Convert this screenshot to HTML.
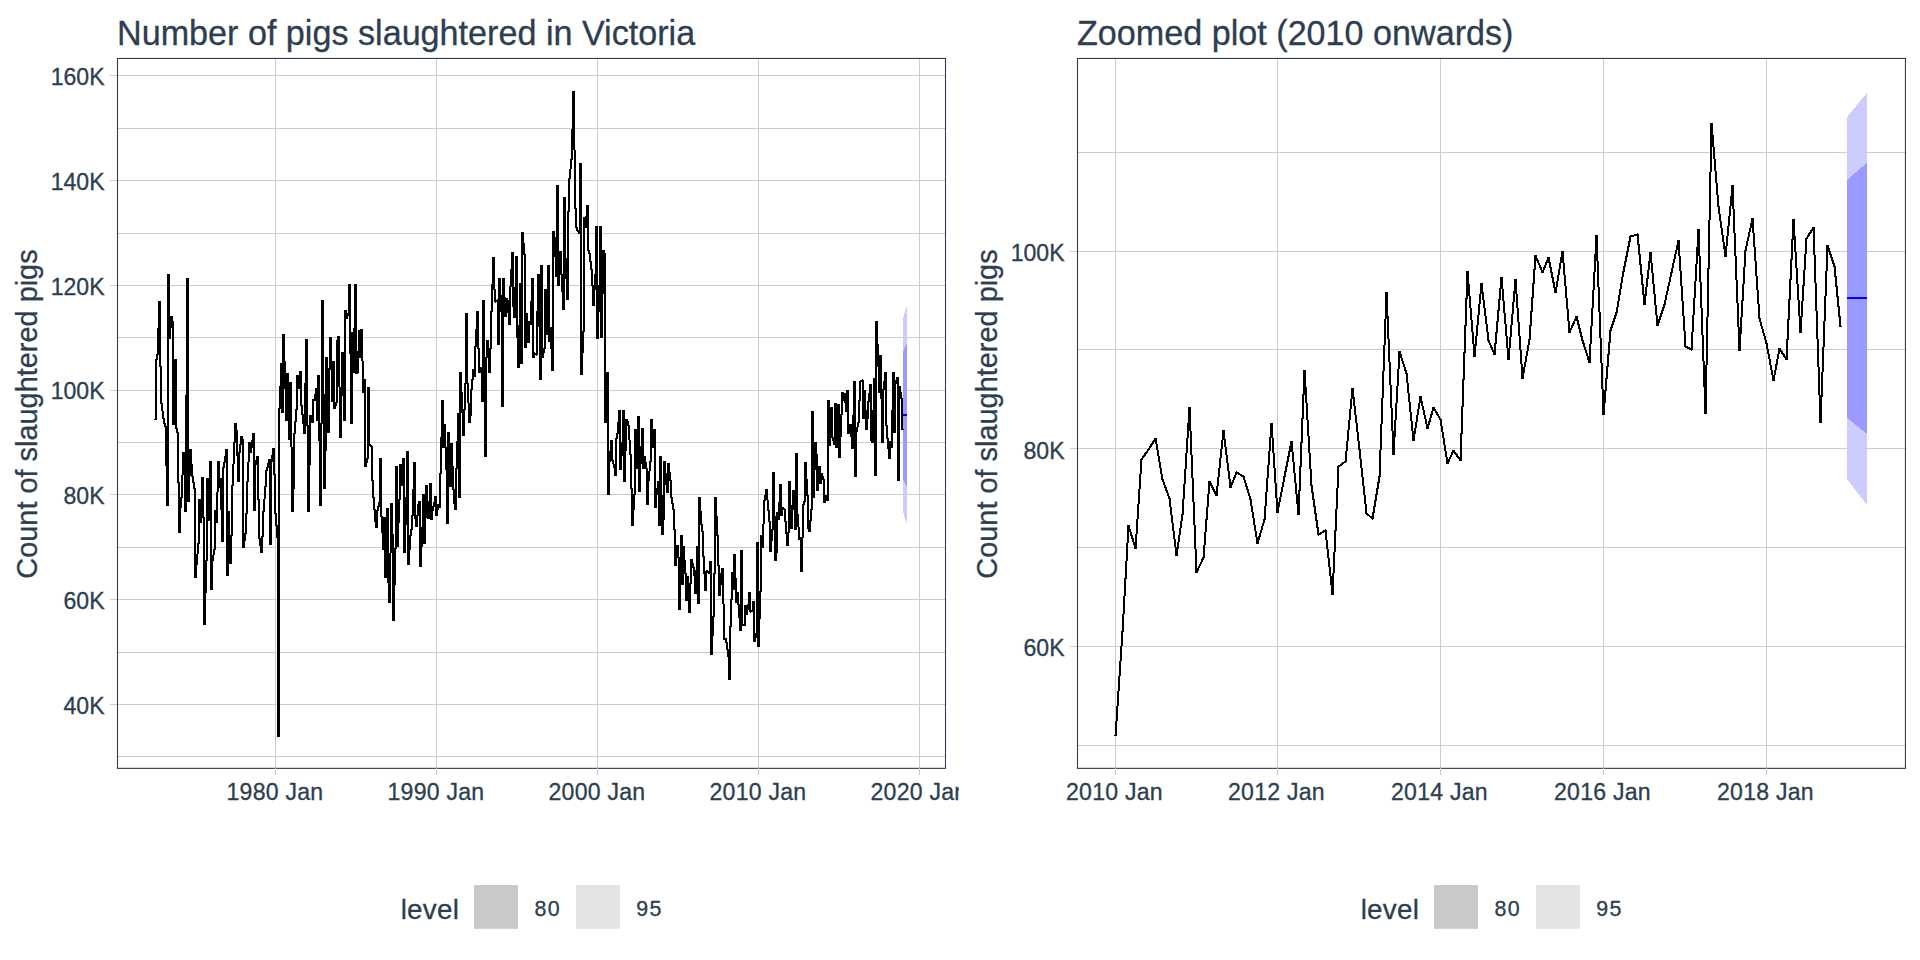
<!DOCTYPE html>
<html lang="en"><head><meta charset="utf-8"><title>Number of pigs slaughtered in Victoria</title>
<style>html,body{margin:0;padding:0;background:#fff;}body{width:1920px;height:960px;overflow:hidden;}svg{display:block;}text{font-family:"Liberation Sans",sans-serif;fill:#2c3e50;}text{stroke:#2c3e50;stroke-width:0.3px;}.t{font-size:34.15px;}.a{font-size:28.9px;letter-spacing:0px;}.l{font-size:27.8px;letter-spacing:0.25px;}.m{font-size:21.4px;letter-spacing:1.3px;}.k{font-size:23.1px;}.x{letter-spacing:0.22px;}.g{stroke:#cccccc;stroke-width:1;fill:none;shape-rendering:crispEdges;}.b{stroke:#2c3e50;stroke-width:1.1;fill:none;}.s{stroke:#000;stroke-width:2.3;fill:none;stroke-linejoin:miter;stroke-miterlimit:2;stroke-linecap:butt;shape-rendering:crispEdges;}</style></head><body>
<svg width="1920" height="960" viewBox="0 0 1920 960">
<rect width="1920" height="960" fill="#fff"/>
<path class="g" d="M117.5 756.5H945.5M117.5 652.5H945.5M117.5 547.5H945.5M117.5 442.5H945.5M117.5 337.5H945.5M117.5 233.5H945.5M117.5 128.5H945.5M110 704.5H945.5M110 599.5H945.5M110 494.5H945.5M110 390.5H945.5M110 285.5H945.5M110 180.5H945.5M110 75.5H945.5M275.5 58.45V768.35M436.5 58.45V768.35M597.5 58.45V768.35M758.5 58.45V768.35M919.5 58.45V768.35"/>
<path d="M902.9 318.77L904.2 314.26L905.55 310.01L906.9 305.93L906.9 524.37L905.55 520.04L904.2 515.59L902.9 510.92Z" fill="#ccccff" shape-rendering="crispEdges"/>
<path d="M902.9 352.13L904.2 348.94L905.55 345.92L906.9 342.98L906.9 486.71L905.55 484.03L904.2 481.22L902.9 478.3Z" fill="#9999ff" shape-rendering="crispEdges"/>
<path d="M902.9 415H906.9" stroke="#0000ff" stroke-width="2" fill="none" shape-rendering="crispEdges"/>
<path d="M573 91h1v59h-1zM572 91h1v69h-1zM574 91h1v118h-1zM571 129h1v40h-1zM575 150h1v78h-1zM570 159h1v20h-1zM579 163h1v71h-1zM580 163h2v212h-2zM569 169h1v43h-1zM568 178h1v122h-1zM556 185h1v92h-1zM557 185h2v101h-2zM565 197h1v82h-1zM563 197h2v113h-2zM586 205h1v23h-1zM587 205h1v46h-1zM588 205h1v49h-1zM576 208h1v23h-1zM567 211h1v89h-1zM585 216h1v12h-1zM584 217h1v115h-1zM583 217h1v136h-1zM595 226h1v64h-1zM599 226h1v86h-1zM600 226h2v112h-2zM596 226h2v113h-2zM577 227h1v5h-1zM578 230h1v4h-1zM554 231h1v26h-1zM552 231h2v140h-2zM523 232h1v23h-1zM521 232h2v132h-2zM555 237h1v40h-1zM524 243h1v105h-1zM589 250h1v12h-1zM603 250h1v44h-1zM602 250h1v88h-1zM604 250h1v173h-1zM560 251h1v24h-1zM559 251h1v35h-1zM561 251h1v41h-1zM511 252h1v35h-1zM512 252h1v55h-1zM513 252h1v66h-1zM590 253h1v17h-1zM605 253h1v170h-1zM525 254h1v94h-1zM515 256h1v62h-1zM516 256h1v82h-1zM517 256h1v112h-1zM493 257h1v33h-1zM494 257h1v45h-1zM492 257h1v55h-1zM566 258h1v42h-1zM591 261h1v25h-1zM547 265h1v70h-1zM548 265h2v77h-2zM542 265h1v93h-1zM540 265h2v115h-2zM592 269h1v37h-1zM510 269h1v56h-1zM594 274h1v32h-1zM562 274h1v36h-1zM538 274h1v53h-1zM169 274h1v65h-1zM537 274h1v81h-1zM539 274h1v106h-1zM167 274h2v232h-2zM500 278h1v34h-1zM504 278h1v39h-1zM531 278h1v47h-1zM498 278h2v67h-2zM532 278h2v80h-2zM502 278h2v129h-2zM187 278h2v224h-2zM186 278h1v234h-1zM520 283h1v81h-1zM519 283h1v85h-1zM348 284h1v32h-1zM491 284h1v65h-1zM349 284h1v70h-1zM354 284h1v89h-1zM355 284h2v90h-2zM350 284h1v140h-1zM593 285h1v21h-1zM598 285h1v54h-1zM509 286h1v39h-1zM514 287h1v31h-1zM495 289h1v14h-1zM546 289h1v46h-1zM545 289h1v60h-1zM544 289h1v64h-1zM501 295h1v112h-1zM505 297h1v20h-1zM507 298h1v15h-1zM506 298h1v19h-1zM497 299h1v46h-1zM496 300h1v2h-1zM508 300h1v25h-1zM482 300h2v102h-2zM322 300h1v124h-1zM484 300h1v157h-1zM323 300h1v189h-1zM321 300h1v206h-1zM530 301h1v24h-1zM158 301h1v54h-1zM159 301h1v66h-1zM160 301h1v103h-1zM346 310h1v9h-1zM344 310h2v111h-2zM476 311h1v36h-1zM477 311h1v38h-1zM536 311h1v45h-1zM478 311h1v62h-1zM490 311h1v62h-1zM347 313h1v6h-1zM527 313h1v30h-1zM526 313h1v35h-1zM466 313h1v71h-1zM467 313h1v90h-1zM465 313h1v97h-1zM171 316h1v12h-1zM170 316h1v23h-1zM172 316h1v109h-1zM528 321h2v22h-2zM877 321h1v46h-1zM173 321h1v104h-1zM875 321h2v155h-2zM518 325h1v43h-1zM550 327h1v22h-1zM551 327h1v44h-1zM157 328h1v32h-1zM353 328h1v45h-1zM360 329h1v29h-1zM361 329h1v32h-1zM475 329h1v48h-1zM362 329h1v64h-1zM359 330h1v28h-1zM358 330h1v43h-1zM582 331h1v44h-1zM351 332h2v92h-2zM284 334h1v55h-1zM282 334h2v79h-2zM338 336h1v51h-1zM337 336h1v67h-1zM339 336h1v102h-1zM330 337h1v33h-1zM331 337h1v65h-1zM329 337h1v96h-1zM306 339h1v87h-1zM305 339h1v95h-1zM307 339h1v173h-1zM487 340h1v18h-1zM488 340h1v33h-1zM336 340h1v66h-1zM486 340h1v117h-1zM878 344h1v49h-1zM474 346h1v31h-1zM543 348h1v10h-1zM479 348h1v25h-1zM489 348h1v25h-1zM357 351h1v23h-1zM534 352h1v6h-1zM342 352h1v44h-1zM343 352h1v69h-1zM341 352h1v86h-1zM535 353h1v2h-1zM156 354h1v66h-1zM879 355h1v38h-1zM880 355h1v44h-1zM881 355h1v88h-1zM327 357h1v76h-1zM326 357h1v94h-1zM485 357h1v100h-1zM325 357h1v132h-1zM155 359h1v61h-1zM174 359h1v66h-1zM175 359h1v70h-1zM176 359h1v74h-1zM363 361h1v32h-1zM332 361h1v41h-1zM333 361h2v48h-2zM285 361h1v60h-1zM280 363h1v46h-1zM281 363h1v50h-1zM161 366h1v45h-1zM480 367h1v6h-1zM481 367h1v35h-1zM328 368h1v65h-1zM473 369h1v11h-1zM472 369h1v21h-1zM299 371h1v18h-1zM300 371h1v35h-1zM301 371h1v44h-1zM884 372h1v18h-1zM461 372h1v41h-1zM606 372h1v51h-1zM885 372h1v54h-1zM893 372h2v61h-2zM886 372h1v67h-1zM892 372h1v76h-1zM607 372h2v123h-2zM459 372h2v126h-2zM286 373h2v48h-2zM288 373h1v67h-1zM298 375h1v14h-1zM297 375h1v35h-1zM317 375h1v46h-1zM296 375h1v47h-1zM318 375h1v66h-1zM319 375h1v131h-1zM896 377h1v7h-1zM897 377h2v104h-2zM873 378h1v65h-1zM874 378h1v98h-1zM471 379h1v37h-1zM862 379h1v40h-1zM364 379h2v88h-2zM861 380h1v2h-1zM860 380h1v21h-1zM863 380h1v39h-1zM895 380h1v53h-1zM859 381h1v42h-1zM883 381h1v62h-1zM853 381h1v68h-1zM854 381h2v96h-2zM289 382h1v58h-1zM290 382h1v65h-1zM291 382h1v130h-1zM468 383h1v40h-1zM304 383h1v51h-1zM464 383h1v53h-1zM869 384h1v18h-1zM870 384h1v57h-1zM871 384h1v59h-1zM900 386h1v13h-1zM899 386h1v95h-1zM279 386h1v351h-1zM340 387h1v51h-1zM369 387h1v59h-1zM368 387h1v72h-1zM367 387h1v76h-1zM315 388h1v13h-1zM316 388h1v33h-1zM470 389h1v34h-1zM882 389h1v54h-1zM846 390h1v22h-1zM864 390h1v29h-1zM865 390h1v40h-1zM847 390h2v44h-2zM843 392h1v9h-1zM842 392h1v23h-1zM901 392h1v38h-1zM462 392h1v44h-1zM841 392h1v45h-1zM844 393h1v10h-1zM845 393h1v19h-1zM868 393h1v26h-1zM314 394h1v7h-1zM324 394h1v95h-1zM185 395h1v117h-1zM902 398h1v32h-1zM312 399h2v24h-2zM858 400h1v27h-1zM829 400h1v46h-1zM442 400h2v48h-2zM441 400h1v74h-1zM827 400h2v101h-2zM867 401h1v29h-1zM335 402h1v7h-1zM162 403h1v16h-1zM469 403h1v20h-1zM834 403h1v42h-1zM835 403h2v45h-2zM837 404h1v44h-1zM838 404h2v54h-2zM302 405h1v19h-1zM831 407h1v31h-1zM832 407h1v34h-1zM830 407h1v39h-1zM278 408h1v329h-1zM295 409h1v25h-1zM463 409h1v27h-1zM866 410h1v20h-1zM618 410h1v24h-1zM872 410h1v33h-1zM891 410h1v38h-1zM622 410h1v46h-1zM619 410h2v60h-2zM623 410h2v72h-2zM163 411h1v13h-1zM813 411h1v87h-1zM812 411h1v99h-1zM811 411h1v110h-1zM457 413h1v56h-1zM458 413h1v85h-1zM303 414h1v20h-1zM840 414h1v44h-1zM311 415h1v8h-1zM852 415h1v34h-1zM310 415h1v50h-1zM309 415h1v97h-1zM637 416h1v53h-1zM638 416h2v76h-2zM164 418h1v9h-1zM154 419h1v1h-1zM627 419h1v7h-1zM652 419h1v29h-1zM626 419h1v32h-1zM651 419h1v43h-1zM650 419h1v52h-1zM625 419h1v63h-1zM628 421h1v19h-1zM294 421h1v68h-1zM857 422h1v10h-1zM617 422h1v17h-1zM235 423h1v20h-1zM236 423h1v33h-1zM234 423h1v41h-1zM165 423h1v43h-1zM320 423h1v83h-1zM849 424h1v10h-1zM850 424h1v13h-1zM444 424h1v24h-1zM851 424h1v25h-1zM445 424h1v46h-1zM887 425h1v24h-1zM629 425h1v30h-1zM308 425h1v87h-1zM166 426h1v80h-1zM856 427h1v50h-1zM641 428h1v36h-1zM642 428h2v41h-2zM177 428h1v55h-1zM903 429h1v1h-1zM653 429h1v19h-1zM636 429h1v40h-1zM635 429h1v66h-1zM654 429h2v79h-2zM634 429h1v81h-1zM237 430h1v52h-1zM449 432h1v55h-1zM447 432h2v92h-2zM178 432h1v101h-1zM252 433h1v15h-1zM616 433h1v43h-1zM253 433h2v78h-2zM293 433h1v79h-1zM241 436h1v9h-1zM240 436h1v17h-1zM242 436h1v112h-1zM833 437h1v8h-1zM440 437h1v71h-1zM888 438h1v21h-1zM615 438h1v38h-1zM243 439h1v109h-1zM251 440h1v13h-1zM611 440h1v21h-1zM610 440h1v22h-1zM612 440h1v24h-1zM630 440h1v49h-1zM889 441h2v18h-2zM456 441h1v69h-1zM250 442h1v11h-1zM249 442h1v20h-1zM621 442h1v28h-1zM815 442h1v28h-1zM248 442h1v40h-1zM233 442h1v44h-1zM816 442h1v49h-1zM814 442h1v56h-1zM450 443h2v44h-2zM452 443h1v47h-1zM370 444h1v3h-1zM239 444h1v38h-1zM371 445h1v36h-1zM640 446h1v46h-1zM372 446h1v52h-1zM292 447h1v65h-1zM446 447h1v77h-1zM272 448h1v14h-1zM273 448h1v27h-1zM274 448h1v66h-1zM225 449h1v14h-1zM190 449h1v27h-1zM191 449h1v28h-1zM189 449h1v53h-1zM226 449h2v127h-2zM609 451h1v44h-1zM406 451h1v74h-1zM407 451h2v114h-2zM183 452h1v23h-1zM238 452h1v30h-1zM182 452h1v46h-1zM184 452h1v60h-1zM797 453h1v74h-1zM795 453h2v77h-2zM817 454h1v37h-1zM631 454h1v72h-1zM271 455h1v90h-1zM256 456h1v9h-1zM224 456h1v12h-1zM644 456h2v13h-2zM257 456h1v44h-1zM659 456h2v70h-2zM661 456h1v79h-1zM258 456h1v83h-1zM366 458h1v9h-1zM402 458h1v28h-1zM379 458h1v49h-1zM380 458h1v59h-1zM381 458h1v75h-1zM403 458h2v95h-2zM268 459h1v9h-1zM269 459h2v86h-2zM613 460h1v8h-1zM255 460h1v51h-1zM649 461h1v20h-1zM665 461h1v24h-1zM219 461h1v27h-1zM218 461h1v31h-1zM664 461h1v59h-1zM209 461h1v60h-1zM217 461h1v62h-1zM663 461h1v74h-1zM210 461h2v129h-2zM806 462h1v34h-1zM805 462h1v40h-1zM646 462h1v43h-1zM804 462h1v43h-1zM247 462h1v52h-1zM413 462h1v54h-1zM414 462h1v57h-1zM415 462h1v65h-1zM223 462h1v80h-1zM267 463h1v8h-1zM669 463h1v18h-1zM667 463h2v30h-2zM614 464h1v12h-1zM192 464h1v19h-1zM401 464h1v22h-1zM400 464h1v36h-1zM399 464h1v59h-1zM232 464h1v72h-1zM819 466h2v18h-2zM818 466h1v25h-1zM453 466h1v38h-1zM397 466h1v81h-1zM396 466h1v83h-1zM395 466h1v119h-1zM266 467h1v20h-1zM222 467h1v75h-1zM647 468h1v37h-1zM455 468h1v42h-1zM265 470h1v29h-1zM648 471h1v34h-1zM670 472h1v26h-1zM773 472h1v58h-1zM772 472h1v69h-1zM774 472h1v89h-1zM822 473h1v7h-1zM821 473h1v11h-1zM666 473h1v20h-1zM439 473h1v35h-1zM275 474h1v52h-1zM181 475h1v33h-1zM193 476h1v13h-1zM823 476h1v27h-1zM202 477h1v41h-1zM201 477h1v46h-1zM203 477h1v148h-1zM220 478h1v32h-1zM208 478h1v43h-1zM221 478h1v64h-1zM207 478h1v83h-1zM206 478h1v115h-1zM824 479h1v24h-1zM807 479h1v50h-1zM671 480h1v24h-1zM373 480h1v30h-1zM657 481h1v14h-1zM658 481h1v45h-1zM790 481h1v48h-1zM789 481h1v52h-1zM246 481h1v53h-1zM788 481h1v65h-1zM179 482h1v51h-1zM194 482h1v96h-1zM429 483h1v36h-1zM430 483h2v37h-2zM780 484h2v32h-2zM779 484h1v36h-1zM426 485h1v33h-1zM427 485h1v34h-1zM425 485h1v59h-1zM231 485h1v79h-1zM264 486h1v26h-1zM656 488h1v20h-1zM632 488h1v38h-1zM195 488h1v90h-1zM766 489h1v11h-1zM765 489h1v12h-1zM454 489h1v21h-1zM767 489h1v22h-1zM412 489h1v41h-1zM793 490h1v20h-1zM792 490h1v39h-1zM794 490h1v40h-1zM216 492h1v31h-1zM633 494h1v32h-1zM423 494h2v50h-2zM422 494h1v53h-1zM826 495h1v6h-1zM825 495h1v8h-1zM764 495h1v29h-1zM808 495h1v37h-1zM662 495h1v40h-1zM434 496h1v11h-1zM435 496h2v20h-2zM672 497h1v13h-1zM374 497h1v25h-1zM700 497h1v28h-1zM180 497h1v36h-1zM716 497h1v39h-1zM405 497h1v56h-1zM715 497h1v77h-1zM698 497h2v107h-2zM714 497h1v120h-1zM200 499h1v24h-1zM263 499h1v38h-1zM199 499h1v45h-1zM259 499h1v47h-1zM398 499h1v48h-1zM198 499h1v55h-1zM768 500h1v22h-1zM763 500h1v48h-1zM418 501h1v15h-1zM428 501h1v18h-1zM803 501h1v37h-1zM419 501h2v66h-2zM378 502h1v9h-1zM433 502h1v9h-1zM778 502h1v18h-1zM673 503h1v27h-1zM391 503h1v50h-1zM390 503h1v100h-1zM392 503h1v118h-1zM438 504h1v6h-1zM437 504h1v12h-1zM417 504h1v23h-1zM802 504h1v68h-1zM791 505h1v24h-1zM432 506h1v14h-1zM377 506h1v22h-1zM783 507h1v3h-1zM782 507h1v9h-1zM784 508h1v14h-1zM386 508h1v70h-1zM387 508h1v75h-1zM388 508h1v95h-1zM375 509h1v19h-1zM810 509h1v23h-1zM785 509h1v25h-1zM674 509h1v57h-1zM376 510h1v18h-1zM215 510h1v40h-1zM769 510h1v42h-1zM214 510h1v45h-1zM701 511h1v21h-1zM262 511h1v42h-1zM229 511h1v53h-1zM228 511h1v65h-1zM777 512h1v41h-1zM776 512h1v49h-1zM276 513h1v25h-1zM245 513h1v28h-1zM798 514h1v26h-1zM416 515h1v12h-1zM411 515h1v21h-1zM382 516h1v34h-1zM775 516h1v45h-1zM717 516h1v50h-1zM383 517h1v33h-1zM384 517h2v61h-2zM204 517h1v108h-1zM809 520h1v12h-1zM786 521h1v25h-1zM770 521h1v31h-1zM762 524h1v24h-1zM702 524h1v33h-1zM277 525h1v212h-1zM799 527h1v13h-1zM421 527h1v40h-1zM410 529h1v21h-1zM771 529h1v23h-1zM675 529h1v37h-1zM703 531h1v43h-1zM787 532h1v14h-1zM244 533h1v15h-1zM393 534h1v87h-1zM230 535h1v29h-1zM409 535h1v30h-1zM681 535h2v50h-2zM761 535h1v57h-1zM718 535h1v61h-1zM680 535h1v75h-1zM760 535h1v84h-1zM261 536h1v17h-1zM800 537h2v35h-2zM260 538h1v15h-1zM756 542h1v96h-1zM757 542h2v105h-2zM197 543h1v22h-1zM677 545h1v13h-1zM676 545h1v21h-1zM678 545h1v65h-1zM684 546h1v28h-1zM683 546h1v39h-1zM696 546h1v48h-1zM697 546h1v58h-1zM394 548h1v73h-1zM213 549h1v12h-1zM742 550h1v76h-1zM740 550h2v81h-2zM389 553h1v50h-1zM196 554h1v24h-1zM733 554h2v36h-2zM735 554h1v49h-1zM212 555h1v35h-1zM704 556h1v35h-1zM679 557h1v53h-1zM692 559h1v9h-1zM691 559h1v25h-1zM690 559h1v54h-1zM685 560h1v41h-1zM205 560h1v65h-1zM709 561h1v13h-1zM710 561h2v94h-2zM693 563h1v13h-1zM719 565h1v31h-1zM694 567h1v27h-1zM721 568h1v17h-1zM722 568h1v36h-1zM723 568h1v72h-1zM707 570h1v3h-1zM706 570h1v21h-1zM695 570h1v24h-1zM708 571h1v3h-1zM705 571h1v20h-1zM732 572h1v28h-1zM731 572h1v55h-1zM720 573h1v23h-1zM686 573h1v28h-1zM713 573h1v63h-1zM687 576h1v25h-1zM688 576h1v37h-1zM736 578h1v25h-1zM689 583h1v30h-1zM759 591h1v56h-1zM737 592h1v13h-1zM748 592h1v18h-1zM749 592h1v20h-1zM750 592h1v21h-1zM738 592h1v26h-1zM730 599h1v81h-1zM752 601h1v11h-1zM753 601h2v41h-2zM747 604h1v11h-1zM739 604h1v27h-1zM724 604h1v36h-1zM746 605h1v10h-1zM744 605h2v21h-2zM751 610h1v2h-1zM712 616h1v39h-1zM743 624h1v2h-1zM729 626h1v54h-1zM755 633h1v9h-1zM725 638h1v5h-1zM726 638h1v12h-1zM727 642h1v15h-1zM728 649h1v31h-1z" fill="#000" shape-rendering="crispEdges"/>
<path class="g" d="M275.5 767.85V774.95M436.5 767.85V774.95M597.5 767.85V774.95M758.5 767.85V774.95M919.5 767.85V774.95"/>
<rect class="b" x="117.5" y="58.45" width="828" height="709.9"/>
<path class="g" d="M275.5 767.85V774.95M436.5 767.85V774.95M597.5 767.85V774.95M758.5 767.85V774.95M919.5 767.85V774.95"/>
<text class="t" x="117" y="44.7">Number of pigs slaughtered in Victoria</text>
<text class="k" x="104.6" y="713.97" text-anchor="end">40K</text>
<text class="k" x="104.6" y="609.14" text-anchor="end">60K</text>
<text class="k" x="104.6" y="504.3" text-anchor="end">80K</text>
<text class="k" x="104.6" y="399.47" text-anchor="end">100K</text>
<text class="k" x="104.6" y="294.63" text-anchor="end">120K</text>
<text class="k" x="104.6" y="189.8" text-anchor="end">140K</text>
<text class="k" x="104.6" y="84.97" text-anchor="end">160K</text>
<text class="k x" x="274.9" y="800.3" text-anchor="middle">1980 Jan</text>
<text class="k x" x="435.9" y="800.3" text-anchor="middle">1990 Jan</text>
<text class="k x" x="596.9" y="800.3" text-anchor="middle">2000 Jan</text>
<text class="k x" x="757.9" y="800.3" text-anchor="middle">2010 Jan</text>
<text class="k x" x="918.9" y="800.3" text-anchor="middle">2020 Jan</text>
<text class="a" transform="translate(36.7 414) rotate(-90)" text-anchor="middle">Count of slaughtered pigs</text>
<rect x="959" y="775" width="40" height="40" fill="#fff"/>
<path class="g" d="M1077.5 745.5H1905.45M1077.5 547.5H1905.45M1077.5 349.5H1905.45M1077.5 152.5H1905.45M1070 646.5H1905.45M1070 448.5H1905.45M1070 251.5H1905.45M1115.5 58.45V768.35M1277.5 58.45V768.35M1440.5 58.45V768.35M1603.5 58.45V768.35M1766.5 58.45V768.35"/>
<path d="M1847.2 117.1L1853.8 108.6L1860.4 100.6L1867 92.9L1867 504.75L1860.4 496.6L1853.8 488.2L1847.2 479.4Z" fill="#ccccff" shape-rendering="crispEdges"/>
<path d="M1847.2 180L1853.8 174L1860.4 168.3L1867 162.75L1867 433.75L1860.4 428.7L1853.8 423.4L1847.2 417.9Z" fill="#9999ff" shape-rendering="crispEdges"/>
<path d="M1847.2 298H1867" stroke="#0000ff" stroke-width="2" fill="none" shape-rendering="crispEdges"/>
<path d="M1712 123h1v24h-1zM1711 123h1v49h-1zM1710 123h1v97h-1zM1713 135h1v24h-1zM1714 147h1v24h-1zM1715 159h1v24h-1zM1716 171h1v24h-1zM1709 172h1v97h-1zM1717 183h1v24h-1zM1731 185h1v21h-1zM1732 185h1v24h-1zM1733 185h1v48h-1zM1718 195h1v19h-1zM1730 196h1v20h-1zM1719 206h1v15h-1zM1729 206h1v20h-1zM1734 209h1v47h-1zM1720 214h1v14h-1zM1728 216h1v20h-1zM1751 218h1v10h-1zM1752 218h1v15h-1zM1753 218h1v29h-1zM1793 219h1v21h-1zM1794 219h1v33h-1zM1792 219h1v41h-1zM1708 220h1v97h-1zM1721 221h1v14h-1zM1750 223h1v9h-1zM1727 226h1v20h-1zM1812 227h1v4h-1zM1813 227h1v28h-1zM1814 227h1v56h-1zM1749 228h1v9h-1zM1722 228h1v14h-1zM1811 229h1v4h-1zM1698 229h1v27h-1zM1697 229h1v35h-1zM1699 229h1v53h-1zM1810 230h1v4h-1zM1809 232h1v4h-1zM1748 232h1v9h-1zM1808 233h1v4h-1zM1637 233h1v12h-1zM1754 233h1v28h-1zM1735 233h1v47h-1zM1634 234h3v2h-3zM1638 234h1v21h-1zM1631 235h3v2h-3zM1807 235h1v4h-1zM1630 235h1v7h-1zM1723 235h1v14h-1zM1596 235h1v26h-1zM1595 235h1v37h-1zM1597 235h1v52h-1zM1629 236h1v11h-1zM1726 236h1v21h-1zM1795 236h1v32h-1zM1747 237h1v9h-1zM1806 237h1v17h-1zM1805 238h1v32h-1zM1791 239h1v41h-1zM1677 240h1v10h-1zM1678 240h1v16h-1zM1679 240h1v31h-1zM1746 241h1v10h-1zM1628 241h1v11h-1zM1724 242h1v15h-1zM1639 244h1v21h-1zM1828 245h1v7h-1zM1676 245h1v9h-1zM1827 245h1v26h-1zM1826 245h1v51h-1zM1627 246h1v11h-1zM1725 246h1v11h-1zM1745 246h1v21h-1zM1755 247h1v29h-1zM1696 247h1v34h-1zM1829 248h1v7h-1zM1675 250h1v9h-1zM1744 250h1v34h-1zM1830 251h1v7h-1zM1626 251h1v11h-1zM1561 251h2v12h-2zM1563 251h1v24h-1zM1650 252h1v11h-1zM1649 252h1v18h-1zM1651 252h1v21h-1zM1796 252h1v32h-1zM1831 254h1v7h-1zM1674 254h1v9h-1zM1640 254h1v21h-1zM1804 254h1v32h-1zM1594 254h1v36h-1zM1536 255h1v6h-1zM1535 255h1v15h-1zM1534 255h1v29h-1zM1815 255h1v56h-1zM1625 256h1v11h-1zM1680 256h1v30h-1zM1736 256h1v47h-1zM1700 256h1v52h-1zM1547 257h2v6h-2zM1832 257h1v7h-1zM1549 257h1v11h-1zM1560 257h1v12h-1zM1537 258h1v5h-1zM1673 259h1v9h-1zM1790 259h1v41h-1zM1538 260h1v5h-1zM1546 260h1v5h-1zM1833 260h1v7h-1zM1624 261h1v11h-1zM1648 261h1v18h-1zM1756 261h1v29h-1zM1598 261h1v51h-1zM1545 262h1v6h-1zM1550 262h1v11h-1zM1539 263h1v5h-1zM1672 263h1v10h-1zM1559 263h1v12h-1zM1834 263h1v14h-1zM1652 263h1v21h-1zM1564 263h1v23h-1zM1641 264h1v21h-1zM1695 264h1v34h-1zM1540 265h1v5h-1zM1544 265h1v5h-1zM1623 266h1v11h-1zM1835 266h1v21h-1zM1541 267h1v6h-1zM1543 267h1v6h-1zM1551 267h1v11h-1zM1743 267h1v34h-1zM1671 268h1v9h-1zM1797 268h1v32h-1zM1707 268h1v97h-1zM1558 269h1v12h-1zM1533 269h1v29h-1zM1542 270h1v3h-1zM1647 270h1v17h-1zM1803 270h1v31h-1zM1622 271h1v12h-1zM1468 271h1v25h-1zM1467 271h1v28h-1zM1681 271h1v30h-1zM1825 271h1v50h-1zM1466 271h1v55h-1zM1670 272h1v10h-1zM1552 272h1v11h-1zM1593 272h1v36h-1zM1653 273h1v21h-1zM1642 274h1v21h-1zM1557 275h1v12h-1zM1565 275h1v23h-1zM1836 276h1v21h-1zM1757 276h1v28h-1zM1669 277h1v9h-1zM1553 277h1v11h-1zM1501 277h1v12h-1zM1621 277h1v12h-1zM1500 277h1v23h-1zM1502 277h1v24h-1zM1646 278h1v18h-1zM1515 279h1v15h-1zM1514 279h1v23h-1zM1516 279h1v29h-1zM1789 279h1v41h-1zM1737 280h1v47h-1zM1556 281h1v12h-1zM1694 281h1v34h-1zM1668 282h1v9h-1zM1554 282h1v11h-1zM1701 282h1v53h-1zM1481 283h1v11h-1zM1620 283h1v12h-1zM1482 283h1v17h-1zM1480 283h1v21h-1zM1532 283h1v29h-1zM1816 283h1v56h-1zM1643 284h1v21h-1zM1654 284h1v21h-1zM1469 284h1v24h-1zM1798 284h1v32h-1zM1742 284h1v33h-1zM1802 285h1v32h-1zM1667 286h1v9h-1zM1837 286h1v21h-1zM1566 286h1v23h-1zM1682 286h1v30h-1zM1555 287h1v6h-1zM1645 287h1v18h-1zM1599 287h1v51h-1zM1499 288h1v23h-1zM1619 289h1v12h-1zM1503 289h1v24h-1zM1758 290h1v29h-1zM1592 290h1v36h-1zM1666 291h1v9h-1zM1513 291h1v23h-1zM1483 292h1v16h-1zM1386 292h1v27h-1zM1387 292h1v47h-1zM1385 292h1v53h-1zM1644 294h1v11h-1zM1479 294h1v21h-1zM1655 294h1v21h-1zM1517 294h1v28h-1zM1665 295h1v10h-1zM1618 295h1v12h-1zM1838 296h1v21h-1zM1470 296h1v24h-1zM1824 296h1v51h-1zM1531 297h1v29h-1zM1567 298h1v23h-1zM1693 298h1v34h-1zM1465 298h1v55h-1zM1498 299h1v23h-1zM1788 299h1v41h-1zM1664 300h1v8h-1zM1484 300h1v16h-1zM1799 300h1v33h-1zM1741 300h1v34h-1zM1617 301h1v12h-1zM1504 301h1v23h-1zM1683 301h1v30h-1zM1801 301h1v32h-1zM1512 302h1v23h-1zM1738 303h1v48h-1zM1663 304h1v7h-1zM1759 304h1v18h-1zM1478 304h1v21h-1zM1656 305h1v21h-1zM1839 306h1v21h-1zM1662 307h1v7h-1zM1616 307h1v9h-1zM1485 308h1v16h-1zM1471 308h1v24h-1zM1518 308h1v28h-1zM1591 308h1v36h-1zM1702 308h1v53h-1zM1568 309h1v24h-1zM1661 310h1v7h-1zM1497 310h1v23h-1zM1530 311h1v29h-1zM1817 311h1v56h-1zM1615 312h1v7h-1zM1600 312h1v51h-1zM1660 313h1v7h-1zM1505 313h1v23h-1zM1511 314h1v23h-1zM1614 315h1v7h-1zM1657 315h1v11h-1zM1477 315h1v21h-1zM1692 315h1v35h-1zM1575 316h2v5h-2zM1659 316h1v7h-1zM1577 316h1v9h-1zM1840 316h1v11h-1zM1486 316h1v16h-1zM1800 316h1v17h-1zM1684 316h1v31h-1zM1388 316h1v46h-1zM1740 317h1v34h-1zM1706 317h1v97h-1zM1613 318h1v7h-1zM1760 318h1v8h-1zM1574 319h1v5h-1zM1658 319h1v7h-1zM1787 319h1v41h-1zM1384 319h1v52h-1zM1578 320h1v9h-1zM1472 320h1v24h-1zM1573 321h1v5h-1zM1612 321h1v7h-1zM1569 321h1v12h-1zM1496 321h1v23h-1zM1823 321h1v51h-1zM1761 322h1v7h-1zM1519 322h1v28h-1zM1572 323h1v5h-1zM1611 324h1v7h-1zM1579 324h1v9h-1zM1487 324h1v17h-1zM1506 324h1v24h-1zM1571 325h1v5h-1zM1529 325h1v20h-1zM1476 325h1v21h-1zM1510 325h1v23h-1zM1464 325h1v55h-1zM1841 326h1v1h-1zM1762 326h1v7h-1zM1590 326h1v37h-1zM1610 327h1v16h-1zM1739 327h1v24h-1zM1570 328h1v5h-1zM1580 328h1v9h-1zM1763 329h1v7h-1zM1609 330h1v25h-1zM1685 331h1v17h-1zM1581 332h1v9h-1zM1488 332h1v11h-1zM1691 332h1v19h-1zM1495 332h1v23h-1zM1473 332h1v25h-1zM1764 333h1v7h-1zM1703 335h1v52h-1zM1582 336h1v8h-1zM1765 336h1v8h-1zM1475 336h1v21h-1zM1507 336h1v24h-1zM1520 336h1v28h-1zM1509 337h1v23h-1zM1601 338h1v51h-1zM1528 339h1v12h-1zM1786 339h1v21h-1zM1389 339h1v46h-1zM1818 339h1v56h-1zM1489 340h1v5h-1zM1583 340h1v7h-1zM1766 340h1v9h-1zM1608 342h1v25h-1zM1490 343h1v5h-1zM1584 343h1v7h-1zM1767 343h1v11h-1zM1494 343h1v12h-1zM1474 344h1v13h-1zM1589 344h1v19h-1zM1491 345h1v5h-1zM1527 345h1v11h-1zM1383 345h1v53h-1zM1686 346h1v2h-1zM1687 346h1v3h-1zM1688 347h1v2h-1zM1689 347h1v3h-1zM1492 347h1v5h-1zM1585 347h1v6h-1zM1822 347h1v50h-1zM1690 348h1v2h-1zM1780 348h1v4h-1zM1779 348h1v6h-1zM1778 348h1v11h-1zM1508 348h1v12h-1zM1768 349h1v10h-1zM1781 350h1v4h-1zM1493 350h1v5h-1zM1586 350h1v6h-1zM1521 350h1v29h-1zM1782 351h1v4h-1zM1400 351h1v7h-1zM1526 351h1v11h-1zM1399 351h1v18h-1zM1398 351h1v35h-1zM1463 352h1v55h-1zM1783 353h1v4h-1zM1587 353h1v7h-1zM1784 354h1v4h-1zM1401 354h1v7h-1zM1769 354h1v11h-1zM1777 354h1v11h-1zM1607 354h1v25h-1zM1785 356h1v4h-1zM1588 356h1v7h-1zM1525 356h1v11h-1zM1402 358h1v6h-1zM1770 359h1v11h-1zM1776 359h1v11h-1zM1403 361h1v6h-1zM1704 361h1v53h-1zM1524 362h1v11h-1zM1390 362h1v46h-1zM1602 363h1v52h-1zM1404 364h1v7h-1zM1775 364h1v11h-1zM1522 364h1v15h-1zM1771 365h1v10h-1zM1705 365h1v49h-1zM1606 366h1v25h-1zM1405 367h1v7h-1zM1523 367h1v12h-1zM1819 367h1v56h-1zM1397 369h1v34h-1zM1772 370h1v11h-1zM1774 370h1v11h-1zM1406 370h1v13h-1zM1304 370h1v25h-1zM1305 370h1v33h-1zM1303 370h1v49h-1zM1382 371h1v53h-1zM1821 372h1v51h-1zM1407 373h1v20h-1zM1773 375h1v6h-1zM1605 378h1v25h-1zM1462 379h1v55h-1zM1408 383h1v19h-1zM1391 385h1v46h-1zM1396 386h1v34h-1zM1306 387h1v33h-1zM1352 388h1v11h-1zM1353 388h1v18h-1zM1351 388h1v21h-1zM1603 389h1v26h-1zM1604 390h1v25h-1zM1409 393h1v19h-1zM1302 394h1v49h-1zM1820 395h1v28h-1zM1420 396h1v7h-1zM1421 396h1v10h-1zM1419 396h1v13h-1zM1354 397h1v18h-1zM1381 398h1v52h-1zM1350 399h1v21h-1zM1422 401h1v9h-1zM1410 402h1v19h-1zM1418 403h1v12h-1zM1307 403h1v33h-1zM1395 403h1v34h-1zM1423 406h1v9h-1zM1355 406h1v17h-1zM1461 406h1v55h-1zM1433 407h2v4h-2zM1432 407h1v8h-1zM1189 407h1v24h-1zM1188 407h1v31h-1zM1190 407h1v48h-1zM1392 408h1v47h-1zM1435 409h1v4h-1zM1417 409h1v13h-1zM1349 409h1v21h-1zM1424 410h1v9h-1zM1436 411h1v4h-1zM1431 411h1v7h-1zM1437 412h1v4h-1zM1411 412h1v19h-1zM1438 414h1v4h-1zM1430 414h1v8h-1zM1425 415h1v9h-1zM1416 415h1v13h-1zM1356 415h1v17h-1zM1439 416h1v4h-1zM1429 418h1v7h-1zM1440 418h1v8h-1zM1301 418h1v49h-1zM1426 419h1v10h-1zM1441 419h1v13h-1zM1348 420h1v21h-1zM1308 420h1v33h-1zM1394 420h1v35h-1zM1428 421h1v8h-1zM1412 421h1v20h-1zM1415 422h1v12h-1zM1271 423h1v15h-1zM1357 423h1v18h-1zM1270 423h1v28h-1zM1187 423h1v30h-1zM1272 423h1v30h-1zM1427 424h1v5h-1zM1380 424h1v53h-1zM1442 426h1v12h-1zM1414 428h1v13h-1zM1223 430h1v10h-1zM1224 430h1v17h-1zM1222 430h1v19h-1zM1347 430h1v21h-1zM1413 431h1v10h-1zM1393 431h1v24h-1zM1191 431h1v47h-1zM1443 432h1v13h-1zM1358 432h1v18h-1zM1460 433h1v28h-1zM1309 436h1v33h-1zM1269 437h1v28h-1zM1154 438h1v4h-1zM1155 438h1v6h-1zM1156 438h1v12h-1zM1444 438h1v13h-1zM1273 438h1v30h-1zM1186 438h1v31h-1zM1225 439h1v16h-1zM1153 440h1v4h-1zM1221 440h1v18h-1zM1152 441h1v4h-1zM1290 441h2v11h-2zM1359 441h1v18h-1zM1292 441h1v21h-1zM1346 441h1v21h-1zM1300 442h1v49h-1zM1151 443h1v4h-1zM1150 444h1v4h-1zM1157 444h1v12h-1zM1445 445h1v12h-1zM1149 446h1v4h-1zM1289 446h1v11h-1zM1226 447h1v16h-1zM1148 448h1v3h-1zM1147 449h1v4h-1zM1220 449h1v19h-1zM1360 449h1v19h-1zM1453 450h1v3h-1zM1454 450h1v4h-1zM1452 450h1v5h-1zM1158 450h1v12h-1zM1379 450h1v33h-1zM1146 451h1v3h-1zM1288 451h1v11h-1zM1345 451h1v12h-1zM1446 451h1v13h-1zM1268 451h1v27h-1zM1455 452h1v3h-1zM1145 452h1v4h-1zM1451 452h1v5h-1zM1293 452h1v21h-1zM1144 453h1v4h-1zM1456 453h1v4h-1zM1274 453h1v30h-1zM1185 453h1v31h-1zM1310 453h1v33h-1zM1457 454h1v4h-1zM1143 455h1v3h-1zM1450 455h1v4h-1zM1227 455h1v16h-1zM1192 455h1v47h-1zM1458 456h1v3h-1zM1142 456h1v4h-1zM1287 456h1v11h-1zM1159 456h1v12h-1zM1459 457h1v4h-1zM1449 457h1v5h-1zM1447 457h1v7h-1zM1141 458h1v16h-1zM1219 458h1v19h-1zM1448 459h1v5h-1zM1361 459h1v18h-1zM1140 459h1v30h-1zM1344 461h1v2h-1zM1286 461h1v11h-1zM1343 462h1v2h-1zM1342 462h1v3h-1zM1160 462h1v12h-1zM1294 462h1v21h-1zM1341 463h1v3h-1zM1228 463h1v16h-1zM1340 464h1v2h-1zM1339 465h1v2h-1zM1338 465h1v23h-1zM1267 465h1v27h-1zM1285 466h1v11h-1zM1337 466h1v43h-1zM1299 466h1v49h-1zM1161 468h1v12h-1zM1218 468h1v18h-1zM1362 468h1v18h-1zM1275 468h1v30h-1zM1311 469h1v24h-1zM1184 469h1v30h-1zM1236 471h1v4h-1zM1284 471h1v11h-1zM1229 471h1v17h-1zM1237 472h1v2h-1zM1238 472h1v3h-1zM1235 472h1v6h-1zM1239 473h1v2h-1zM1295 473h1v21h-1zM1240 474h1v2h-1zM1241 474h1v3h-1zM1162 474h1v8h-1zM1139 474h1v30h-1zM1242 475h1v2h-1zM1234 475h1v5h-1zM1243 475h1v5h-1zM1244 476h1v7h-1zM1283 476h1v11h-1zM1378 476h1v13h-1zM1233 477h1v6h-1zM1363 477h1v18h-1zM1217 477h1v19h-1zM1266 478h1v28h-1zM1193 478h1v47h-1zM1163 479h1v6h-1zM1230 479h1v9h-1zM1232 480h1v5h-1zM1245 480h1v7h-1zM1210 481h1v5h-1zM1209 481h1v13h-1zM1208 481h1v26h-1zM1164 482h1v6h-1zM1231 482h1v6h-1zM1282 482h1v10h-1zM1377 482h1v13h-1zM1211 483h1v5h-1zM1246 483h1v7h-1zM1296 483h1v21h-1zM1276 483h1v30h-1zM1183 484h1v31h-1zM1212 485h1v5h-1zM1165 485h1v6h-1zM1312 485h1v15h-1zM1247 486h1v7h-1zM1216 486h1v10h-1zM1364 486h1v18h-1zM1213 487h1v5h-1zM1166 487h1v6h-1zM1281 487h1v10h-1zM1376 488h1v13h-1zM1336 488h1v43h-1zM1214 489h1v5h-1zM1248 489h1v7h-1zM1138 489h1v30h-1zM1167 490h1v6h-1zM1298 490h1v25h-1zM1215 491h1v5h-1zM1280 492h1v10h-1zM1313 492h1v15h-1zM1265 492h1v28h-1zM1168 493h1v6h-1zM1249 493h1v7h-1zM1375 494h1v13h-1zM1297 494h1v21h-1zM1207 494h1v26h-1zM1365 495h1v19h-1zM1250 496h1v10h-1zM1169 496h1v11h-1zM1279 497h1v10h-1zM1277 498h1v15h-1zM1170 498h1v17h-1zM1251 499h1v13h-1zM1314 499h1v15h-1zM1182 499h1v22h-1zM1374 500h1v13h-1zM1278 502h1v11h-1zM1194 502h1v47h-1zM1366 504h1v11h-1zM1137 504h1v30h-1zM1252 506h1v12h-1zM1373 506h1v13h-1zM1315 506h1v15h-1zM1264 506h1v17h-1zM1171 507h1v16h-1zM1206 507h1v25h-1zM1335 509h1v43h-1zM1372 512h1v8h-1zM1253 512h1v13h-1zM1367 513h1v3h-1zM1316 513h1v15h-1zM1368 514h1v2h-1zM1181 514h1v14h-1zM1369 515h1v2h-1zM1172 515h1v16h-1zM1370 516h1v2h-1zM1371 516h1v3h-1zM1254 518h1v13h-1zM1263 519h1v7h-1zM1205 519h1v26h-1zM1136 519h1v30h-1zM1317 520h1v15h-1zM1180 521h1v14h-1zM1262 523h1v7h-1zM1173 523h1v16h-1zM1129 525h1v7h-1zM1255 525h1v12h-1zM1128 525h1v18h-1zM1127 525h1v36h-1zM1195 525h1v48h-1zM1261 526h1v7h-1zM1318 527h1v9h-1zM1179 528h1v14h-1zM1130 529h1v7h-1zM1325 529h1v11h-1zM1324 530h1v2h-1zM1323 530h1v3h-1zM1260 530h1v7h-1zM1326 530h1v19h-1zM1334 530h1v43h-1zM1322 531h1v2h-1zM1256 531h1v13h-1zM1174 531h1v16h-1zM1321 532h1v2h-1zM1320 532h1v3h-1zM1131 532h1v7h-1zM1204 532h1v26h-1zM1319 533h1v2h-1zM1259 533h1v7h-1zM1135 534h1v15h-1zM1132 535h1v7h-1zM1178 535h1v14h-1zM1258 536h1v8h-1zM1257 537h1v7h-1zM1133 538h1v7h-1zM1175 539h1v17h-1zM1327 540h1v18h-1zM1134 542h1v7h-1zM1177 542h1v14h-1zM1126 543h1v36h-1zM1203 545h1v15h-1zM1176 547h1v9h-1zM1328 549h1v18h-1zM1196 549h1v24h-1zM1333 552h1v43h-1zM1202 557h1v5h-1zM1329 558h1v18h-1zM1201 559h1v5h-1zM1125 561h1v35h-1zM1200 562h1v4h-1zM1199 564h1v4h-1zM1198 566h1v5h-1zM1330 567h1v18h-1zM1197 568h1v5h-1zM1332 573h1v22h-1zM1331 576h1v19h-1zM1124 578h1v36h-1zM1123 596h1v36h-1zM1122 614h1v32h-1zM1121 631h1v30h-1zM1120 646h1v30h-1zM1119 661h1v30h-1zM1118 676h1v30h-1zM1117 691h1v30h-1zM1116 706h1v30h-1zM1115 721h1v15h-1zM1114 735h1v1h-1z" fill="#000" shape-rendering="crispEdges"/>
<rect class="b" x="1077.5" y="58.45" width="827.95" height="709.9"/>
<path class="g" d="M1115.5 767.85V774.95M1277.5 767.85V774.95M1440.5 767.85V774.95M1603.5 767.85V774.95M1766.5 767.85V774.95"/>
<text class="t" x="1077" y="44.7">Zoomed plot (2010 onwards)</text>
<text class="k" x="1064.6" y="656.17" text-anchor="end">60K</text>
<text class="k" x="1064.6" y="458.51" text-anchor="end">80K</text>
<text class="k" x="1064.6" y="260.85" text-anchor="end">100K</text>
<text class="k x" x="1114.4" y="800.3" text-anchor="middle">2010 Jan</text>
<text class="k x" x="1276.4" y="800.3" text-anchor="middle">2012 Jan</text>
<text class="k x" x="1439.4" y="800.3" text-anchor="middle">2014 Jan</text>
<text class="k x" x="1602.4" y="800.3" text-anchor="middle">2016 Jan</text>
<text class="k x" x="1765.4" y="800.3" text-anchor="middle">2018 Jan</text>
<text class="a" transform="translate(996.7 414) rotate(-90)" text-anchor="middle">Count of slaughtered pigs</text>
<text class="l" x="400.7" y="918.8">level</text>
<rect x="474" y="885" width="44" height="43.8" fill="#c9c9c9"/>
<text class="m" x="534.6" y="915.9">80</text>
<rect x="576" y="885" width="44" height="43.8" fill="#e4e4e4"/>
<text class="m" x="636.3" y="915.9">95</text>
<text class="l" x="1360.7" y="918.8">level</text>
<rect x="1434" y="885" width="44" height="43.8" fill="#c9c9c9"/>
<text class="m" x="1494.6" y="915.9">80</text>
<rect x="1536" y="885" width="44" height="43.8" fill="#e4e4e4"/>
<text class="m" x="1596.3" y="915.9">95</text>
</svg></body></html>
